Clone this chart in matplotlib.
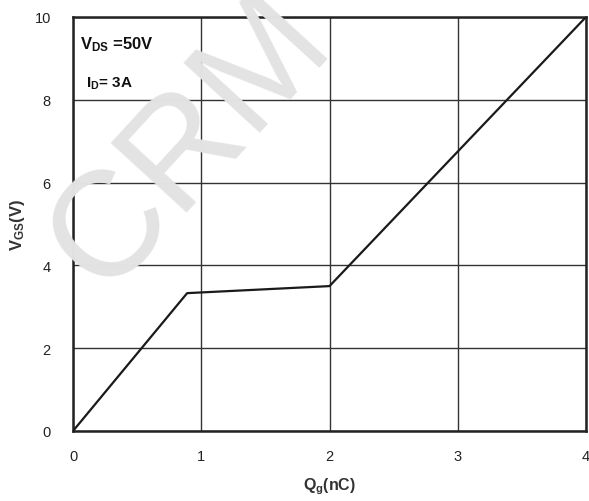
import matplotlib
matplotlib.use("Agg")
import matplotlib.pyplot as plt

# Data
qg = [0.0, 0.89, 2.0, 4.0]
vgs = [0.0, 3.33, 3.50, 10.0]
x_ticks = [0, 1, 2, 3, 4]
y_ticks = [0, 2, 4, 6, 8, 10]

plt.rcParams['mathtext.fontset'] = 'custom'
plt.rcParams['mathtext.bf'] = 'Liberation Sans:bold'
plt.rcParams['mathtext.rm'] = 'Liberation Sans'

fig = plt.figure(figsize=(5.89, 5.02), dpi=100)
ax = fig.add_axes([73/589, 1-432/502, (586-73)/589, (432-18)/502])

# watermark
fig.text(190/589, 1-143/502, "CRM", fontsize=108, color='#e3e3e3',
         rotation=47.5, ha='center', va='center', family='Liberation Sans',
         zorder=0, clip_on=True)
ax.patch.set_alpha(0)

ax.plot(qg, vgs, color='#1a1a1a', lw=1.6, zorder=3)
ax.set_xlim(0, 4)
ax.set_ylim(0, 10)
ax.set_xticks(x_ticks)
ax.set_yticks(y_ticks)
ax.grid(True, color='#333333', lw=1.0)
ax.set_axisbelow(True)
ax.tick_params(length=0, labelsize=10.5, labelcolor='#222222')
ax.tick_params(axis='x', pad=13)
ax.tick_params(axis='y', pad=16)
for lbl in ax.get_xticklabels() + ax.get_yticklabels():
    lbl.set_family('Liberation Sans')
for s in ax.spines.values():
    s.set_linewidth(1.8)
    s.set_color('#222222')

ax.set_xlabel(r'$\mathbf{Q_{g}(nC)}$', fontsize=11.5, color='#333333', labelpad=9)
ax.set_ylabel(r'$\mathbf{V_{GS}(V)}$', fontsize=12, color='#333333', labelpad=5)

fig.text(80/589, 1-45/502, r'$\mathbf{V_{DS}}$ =50V', fontsize=12,
         fontweight='bold', family='Liberation Sans',
         color='#111111', va='center', ha='left')
fig.text(86/589, 1-84/502, r'$\mathbf{I_{D}}$= 3A', fontsize=11,
         fontweight='bold', family='Liberation Sans',
         color='#111111', va='center', ha='left')

fig.savefig('out.png', dpi=100)
